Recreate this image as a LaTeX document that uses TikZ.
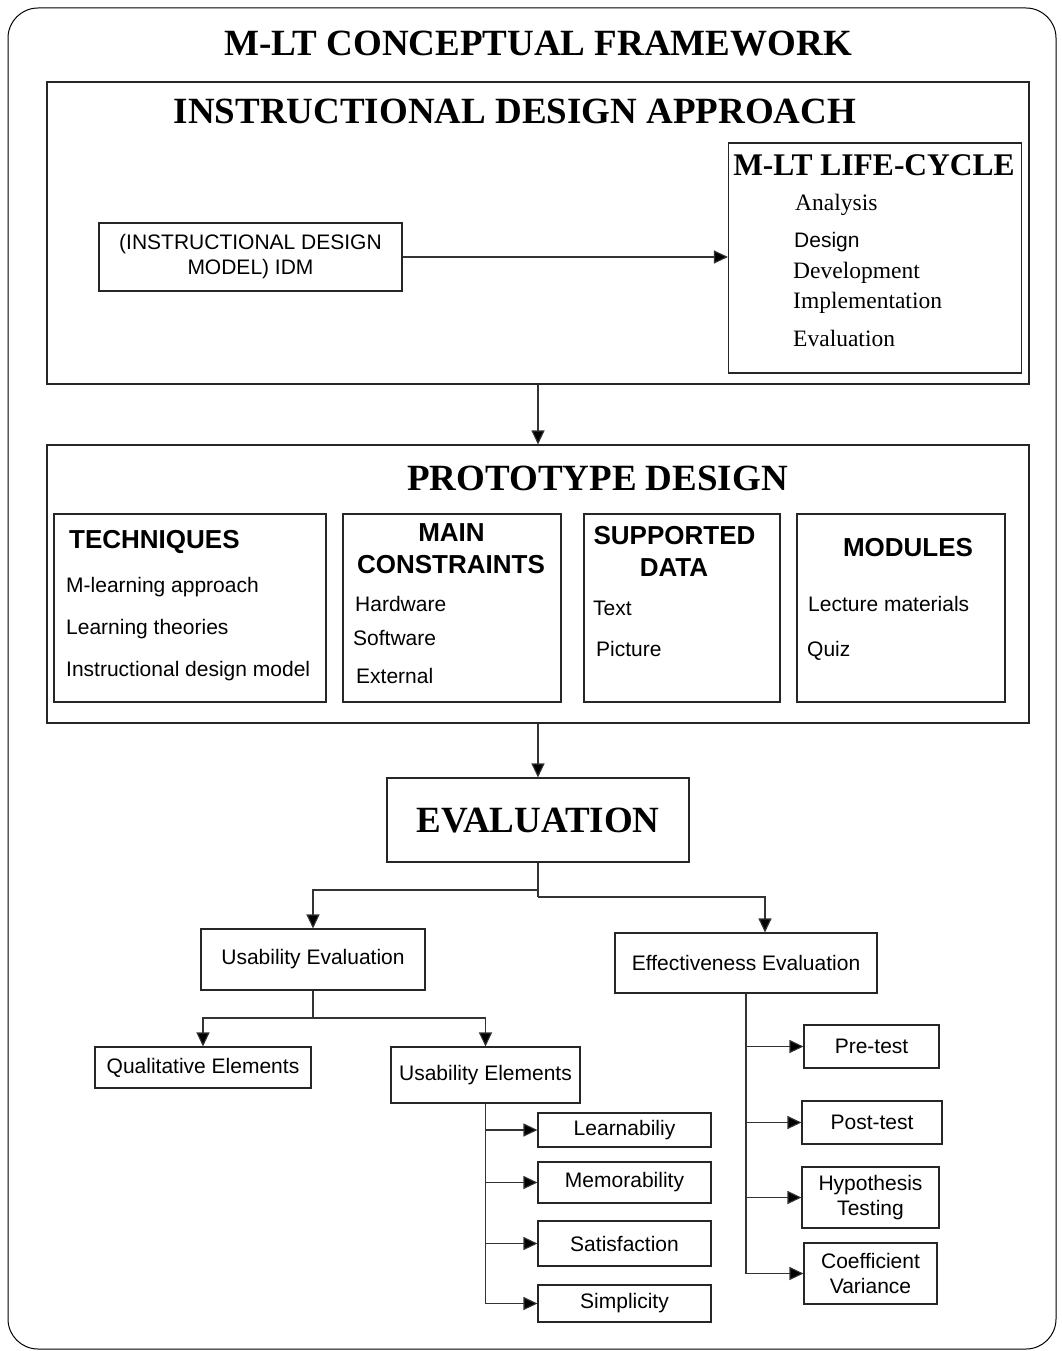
\documentclass[tikz,border=0pt]{standalone}
\usepackage{fontspec}
\setmainfont{Liberation Serif}
\setsansfont{Liberation Sans}
\usetikzlibrary{arrows.meta,calc}
\begin{document}
\begin{tikzpicture}[x=1pt,y=-1pt,
  frame/.style={draw=black!85, line width=1.1pt, inner sep=0pt},
  box/.style={draw=black!85, line width=1.1pt, inner sep=0pt, align=center,
    font=\sffamily\fontsize{21}{25}\selectfont},
  head/.style={inner sep=0pt, font=\bfseries\fontsize{37}{40}\selectfont,
    text height=24.5pt, text depth=0pt},
  sub/.style={inner sep=0pt, font=\sffamily\bfseries\fontsize{26}{30}\selectfont,
    text height=18.6pt, text depth=0pt},
  item/.style={inner sep=0pt, anchor=west, font=\sffamily\fontsize{21}{25}\selectfont,
    text height=15pt, text depth=0pt},
  sitem/.style={inner sep=0pt, anchor=west, font=\fontsize{23.5}{28}\selectfont,
    text height=15.5pt, text depth=0pt},
  link/.style={draw=black!80, line width=1.1pt},
  arr/.style={link, -{Triangle[length=14pt,width=13pt,fill=black]}}
]
\fill[white] (0,0) rectangle (1062,1351);
\useasboundingbox (0,0) rectangle (1062,1351);

% outer frame and title
\draw[line width=1pt, rounded corners=30pt] (8,8) rectangle (1056,1349);
\node[head] (title) at (538,43.5) {M-LT CONCEPTUAL FRAMEWORK};

% instructional design approach
\node[frame, minimum width=982pt, minimum height=302pt] (ida) at (538,233) {};
\node[head] (idat) at (515,111) {INSTRUCTIONAL DESIGN APPROACH};
\node[box, minimum width=303pt, minimum height=68pt] (idm) at (250.5,257)
  {(INSTRUCTIONAL DESIGN\\MODEL) IDM};
\node[frame, minimum width=293pt, minimum height=230pt] (lc) at (875,258) {};
\node[inner sep=0pt, font=\bfseries\fontsize{31.5}{34}\selectfont,
  text height=21pt, text depth=0pt] (lct) at (874,165) {M-LT LIFE-CYCLE};
\node[sitem] (lc1) at (795,203) {Analysis};
\node[item] (lc2) at (794,240) {Design};
\node[sitem] (lc3) at (793,271) {Development};
\node[sitem] (lc4) at (793,301) {Implementation};
\node[sitem] (lc5) at (793,339) {Evaluation};
\draw[arr] (idm.east) -- (idm.east -| lc.west);

% prototype design
\node[frame, minimum width=982pt, minimum height=278pt] (pd) at (538,584) {};
\node[head] (pdt) at (597.5,478) {PROTOTYPE DESIGN};
\draw[arr] (ida.south) -- (pd.north);

\node[frame, minimum width=272pt, minimum height=188pt] (tech) at (190,608) {};
\node[sub, anchor=west] (techt) at (69,539) {TECHNIQUES};
\node[item] (t1) at (66,585) {M-learning approach};
\node[item] (t2) at (66,627) {Learning theories};
\node[item] (t3) at (66,669) {Instructional design model};

\node[frame, minimum width=218pt, minimum height=188pt] (mc) at (452,608) {};
\node[sub] (mct1) at (451.5,532) {MAIN};
\node[sub] (mct2) at (451,564) {CONSTRAINTS};
\node[item] (m1) at (355,604) {Hardware};
\node[item] (m2) at (353,638) {Software};
\node[item] (m3) at (356,676) {External};

\node[frame, minimum width=196pt, minimum height=188pt] (sd) at (682,608) {};
\node[sub] (sdt1) at (674.5,535) {SUPPORTED};
\node[sub] (sdt2) at (674,567) {DATA};
\node[item] (s1) at (593,608) {Text};
\node[item] (s2) at (596,649) {Picture};

\node[frame, minimum width=208pt, minimum height=188pt] (mod) at (901,608) {};
\node[sub] (modt) at (908,547) {MODULES};
\node[item] (o1) at (808,604) {Lecture materials};
\node[item] (o2) at (807,649) {Quiz};

% evaluation
\node[frame, head, minimum width=302pt, minimum height=84pt] (eval) at (538,820) {EVALUATION};
\draw[arr] (pd.south) -- (eval.north);

\node[box, minimum width=224pt, minimum height=61pt] (ue) at (313,959.5) {Usability Evaluation};
\node[box, minimum width=262pt, minimum height=60pt] (ee) at (746,963) {Effectiveness Evaluation};

\coordinate (ja) at (538,890);
\coordinate (jb) at (538,897);
\draw[link] (eval.south) -- (jb);
\draw[arr] (ja) -| (ue.north);
\draw[arr] (jb) -| ($(ee.north)+(19,0)$);

\node[box, minimum width=216pt, minimum height=41pt] (qe) at (203,1067.5) {Qualitative Elements};
\node[box, minimum width=189pt, minimum height=56pt] (uel) at (485.5,1075) {Usability Elements};
\coordinate (jc) at (313,1018);
\draw[link] (ue.south) -- (jc);
\draw[arr] (jc) -| (qe.north);
\draw[arr] (jc) -| (uel.north);

\node[box, minimum width=173pt, minimum height=34pt] (learn) at (624.5,1130) {Learnabiliy};
\node[box, minimum width=173pt, minimum height=41pt] (memo) at (624.5,1182.5) {Memorability};
\node[box, minimum width=173pt, minimum height=45pt] (sat) at (624.5,1243.5) {Satisfaction};
\node[box, minimum width=173pt, minimum height=37pt] (simp) at (624.5,1303.5) {Simplicity};
\foreach \n in {learn,memo,sat,simp} \draw[arr] (uel.south) |- (\n.west);

\node[box, minimum width=135pt, minimum height=43pt] (pre) at (871.5,1046.5) {Pre-test};
\node[box, minimum width=140pt, minimum height=43pt] (post) at (872,1122.5) {Post-test};
\node[box, minimum width=137pt, minimum height=61pt] (hyp) at (870.5,1197.5) {Hypothesis\\Testing};
\node[box, minimum width=133pt, minimum height=61pt] (coef) at (870.5,1273.5) {Coefficient\\Variance};
\foreach \n in {pre,post,hyp,coef} \draw[arr] (ee.south) |- (\n.west);
\end{tikzpicture}
\end{document}
